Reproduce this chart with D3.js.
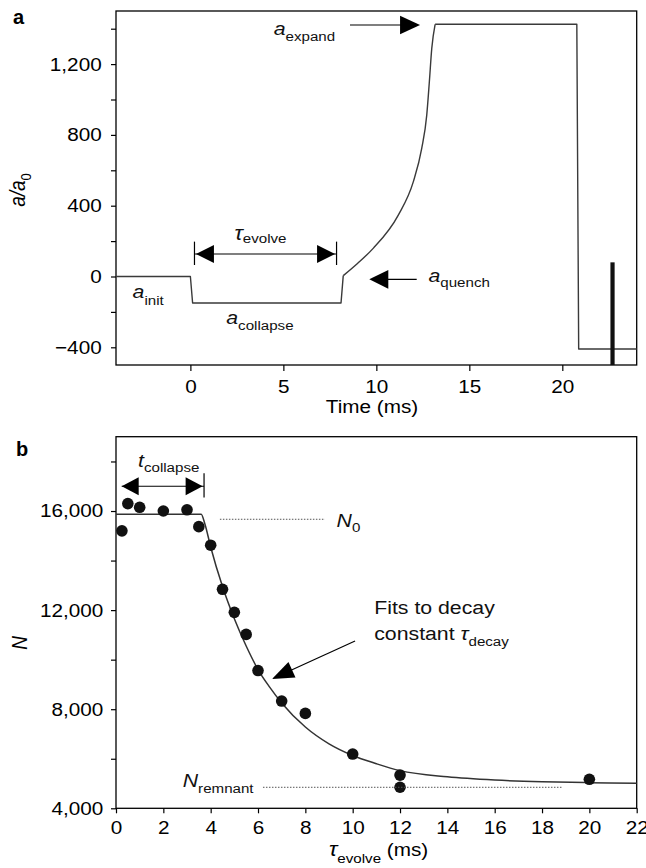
<!DOCTYPE html>
<html>
<head>
<meta charset="utf-8">
<script src="https://cdn.jsdelivr.net/npm/d3@7"></script>
<style>
body { margin: 0; background: #fff; }
svg { font-family: 'Liberation Sans', Arial, sans-serif; }
</style>
</head>
<body>
<div class="chart"></div>
<script>
// panel a: scattering length sequence
var timeMs = [-4, 0, 0.12, 8.1, 8.22, 9.0, 9.83, 11.18, 11.99, 12.44, 12.71, 12.85, 12.98, 13.16, 20.78, 20.88, 24];
var aRatio = [0, 0, -150, -150, 5, 75, 159, 347, 536, 724, 912, 1100, 1289, 1425, 1425, -410, -410];
var riseStart = 4, riseEnd = 13; // indices of the exponential ramp
var aTicks = [-400, 0, 400, 800, 1200];
var aMinorTicks = [-200, 200, 600, 1000, 1400];
var timeTicks = [0, 5, 10, 15, 20];
var pulseTime = 22.7, pulseTop = 80;

// panel b: remaining atoms vs evolve time
var tauEvolve = [0.25, 0.5, 1, 2, 3, 3.5, 4, 4.5, 5, 5.5, 6, 7, 8, 10, 12, 12, 20];
var atomNumber = [15200, 16300, 16150, 16000, 16050, 15370, 14620, 12840, 11910, 11020, 9560, 8330, 7830, 6190, 5340, 4850, 5170];
var fitTau = [0, 3.6, 3.75, 4, 4.5, 5, 5.5, 6, 6.5, 7, 8, 9, 10, 11, 12, 14, 16, 18, 20, 22];
var fitN = [15870, 15870, 15500, 14550, 12950, 11650, 10550, 9600, 8880, 8250, 7280, 6600, 6130, 5800, 5520, 5270, 5140, 5070, 5035, 5015];
var nTicks = [4000, 8000, 12000, 16000];
var nMinorTicks = [6000, 10000, 14000, 18000];
var tauTicks = [0, 2, 4, 6, 8, 10, 12, 14, 16, 18, 20, 22];

var SX = 1.12; // the source type is a bit wide
var W = 646, H = 868;

var svg = d3.select('.chart')
	.append('svg')
		.attr('width', W)
		.attr('height', H);

function arrowHead(g, tx, ty, fx, fy, len, half) {
	// filled triangle with tip at (tx,ty), pointing away from (fx,fy)
	var dx = tx - fx, dy = ty - fy;
	var d = Math.sqrt(dx * dx + dy * dy);
	var ux = dx / d, uy = dy / d;
	var bx = tx - ux * len, by = ty - uy * len;
	g.append('path')
		.attr('d', `M${tx},${ty}L${bx - uy * half},${by + ux * half}L${bx + uy * half},${by - ux * half}Z`)
		.attr('fill', '#000');
}

function subLabel(g, x, y, main, sub, size, subSize, drop) {
	var t = g.append('text')
		.attr('transform', `translate(${x},${y}) scale(${SX},1)`)
		.attr('font-size', size)
		.attr('fill', '#111');
	t.append('tspan').attr('font-style', 'italic').text(main);
	t.append('tspan').attr('font-size', subSize).attr('dy', drop).text(sub);
	return t;
}

// ---------- panel a ----------
var ax = {left: 116, right: 636.7, top: 11, bottom: 365};

var xA = d3.scaleLinear().domain([-4, 24]).range([ax.left, ax.right]);
var yA = d3.scaleLinear().domain([-500, 1500]).range([ax.bottom, ax.top]);

var gA = svg.append('g');

gA.append('g')
	.attr('transform', `translate(${ax.left},0)`)
	.call(d3.axisLeft(yA).tickValues(aMinorTicks).tickSize(5).tickFormat(''))
	.call(g => g.select('.domain').remove());

gA.append('g')
	.attr('transform', `translate(${ax.left},0)`)
	.call(d3.axisLeft(yA).tickValues(aTicks).tickSize(5).tickPadding(7.8).tickFormat(d3.format(',')))
	.call(g => g.select('.domain').remove())
	.selectAll('text')
		.attr('transform', `scale(${SX},1)`)
		.attr('font-size', 18.5)
		.attr('font-family', 'Liberation Sans, Arial, sans-serif');

gA.append('g')
	.attr('transform', `translate(0,${ax.bottom})`)
	.call(d3.axisBottom(xA).tickValues(timeTicks).tickSize(6).tickPadding(9))
	.call(g => g.select('.domain').remove())
	.selectAll('text')
		.attr('transform', `scale(${SX},1)`)
		.attr('font-size', 18.5)
		.attr('font-family', 'Liberation Sans, Arial, sans-serif');

gA.selectAll('.tick line').attr('stroke', '#000').attr('stroke-width', 1.2);

gA.append('rect')
	.attr('x', ax.left).attr('y', ax.top)
	.attr('width', ax.right - ax.left).attr('height', ax.bottom - ax.top)
	.attr('fill', 'none').attr('stroke', '#000').attr('stroke-width', 1.3);

var stepLine = d3.line()
	.x(i => xA(timeMs[i]))
	.y(i => yA(aRatio[i]));
var rampLine = d3.line()
	.x(i => xA(timeMs[i]))
	.y(i => yA(aRatio[i]))
	.curve(d3.curveMonotoneX);

var idx = d3.range(timeMs.length);
var pieces = [
	[stepLine, idx.filter(i => i <= riseStart)],
	[rampLine, idx.filter(i => i >= riseStart && i <= riseEnd)],
	[stepLine, idx.filter(i => i >= riseEnd)]
];
pieces.forEach(p => {
	gA.append('path')
		.attr('d', p[0](p[1]))
		.attr('fill', 'none')
		.attr('stroke', '#3a3a3a')
		.attr('stroke-width', 1.4)
		.attr('stroke-linejoin', 'round');
});

// imaging pulse
gA.append('line')
	.attr('x1', xA(pulseTime)).attr('x2', xA(pulseTime))
	.attr('y1', yA(pulseTop)).attr('y2', ax.bottom)
	.attr('stroke', '#111').attr('stroke-width', 4.2);

// tau_evolve double arrow
var evY = yA(127);
gA.append('line').attr('x1', xA(0.22)).attr('x2', xA(7.86)).attr('y1', evY).attr('y2', evY)
	.attr('stroke', '#000').attr('stroke-width', 1.2);
[0.22, 7.86].forEach(t => {
	gA.append('line').attr('x1', xA(t)).attr('x2', xA(t)).attr('y1', yA(197)).attr('y2', yA(65))
		.attr('stroke', '#000').attr('stroke-width', 1.2);
});
arrowHead(gA, xA(0.3), evY, xA(2), evY, 18, 9);
arrowHead(gA, xA(7.78), evY, xA(5), evY, 18, 9);
subLabel(gA, xA(2.37), yA(206), '\u03c4', 'evolve', 20, 13.5, 3);

// a_expand arrow
var exY = yA(1421);
gA.append('line').attr('x1', 350).attr('x2', xA(11.5)).attr('y1', exY).attr('y2', exY)
	.attr('stroke', '#000').attr('stroke-width', 1.2);
arrowHead(gA, xA(12.35), exY, xA(10), exY, 20, 9.3);
subLabel(gA, xA(4.48), yA(1364), 'a', 'expand', 19, 13.5, 6);

// a_quench arrow
var qY = yA(-16);
gA.append('line').attr('x1', xA(10.3)).attr('x2', xA(12.17)).attr('y1', qY).attr('y2', qY)
	.attr('stroke', '#000').attr('stroke-width', 1.2);
arrowHead(gA, xA(9.62), qY, xA(11), qY, 19, 9.3);
subLabel(gA, xA(12.8), yA(-29), 'a', 'quench', 19, 13.5, 5.5);

subLabel(gA, xA(-3.11), yA(-123), 'a', 'init', 19, 13.5, 7);
subLabel(gA, xA(1.93), yA(-268), 'a', 'collapse', 19, 13.5, 6.5);

gA.append('text')
	.attr('transform', `translate(372,413) scale(${SX},1)`)
	.attr('text-anchor', 'middle')
	.attr('font-size', 18.5)
	.text('Time (ms)');

var yLabA = gA.append('text')
	.attr('transform', `translate(25,190) rotate(-90) scale(1,${SX})`)
	.attr('text-anchor', 'middle')
	.attr('font-size', 19);
yLabA.append('tspan').attr('font-style', 'italic').text('a/a');
yLabA.append('tspan').attr('font-size', 13).attr('dy', 5).text('0');

gA.append('text')
	.attr('x', 13).attr('y', 24)
	.attr('font-size', 20).attr('font-weight', 'bold')
	.text('a');

// ---------- panel b ----------
var bx = {left: 116, right: 636.7, top: 436.7, bottom: 808.3};

var xB = d3.scaleLinear().domain([0, 22]).range([bx.left, bx.right]);
var yB = d3.scaleLinear().domain([4000, 19000]).range([bx.bottom, bx.top]);

var gB = svg.append('g');

gB.append('g')
	.attr('transform', `translate(${bx.left},0)`)
	.call(d3.axisLeft(yB).tickValues(nMinorTicks).tickSize(5).tickFormat(''))
	.call(g => g.select('.domain').remove());

gB.append('g')
	.attr('transform', `translate(${bx.left},0)`)
	.call(d3.axisLeft(yB).tickValues(nTicks).tickSize(5).tickPadding(6.4).tickFormat(d3.format(',')))
	.call(g => g.select('.domain').remove())
	.selectAll('text')
		.attr('transform', `scale(${SX},1)`)
		.attr('font-size', 18.5)
		.attr('font-family', 'Liberation Sans, Arial, sans-serif');

gB.append('g')
	.attr('transform', `translate(0,${bx.bottom})`)
	.call(d3.axisBottom(xB).tickValues(tauTicks).tickSize(5).tickPadding(8))
	.call(g => g.select('.domain').remove())
	.selectAll('text')
		.attr('transform', `scale(${SX},1)`)
		.attr('font-size', 18.5)
		.attr('font-family', 'Liberation Sans, Arial, sans-serif');

gB.selectAll('.tick line').attr('stroke', '#000').attr('stroke-width', 1.2);

gB.append('rect')
	.attr('x', bx.left).attr('y', bx.top)
	.attr('width', bx.right - bx.left).attr('height', bx.bottom - bx.top)
	.attr('fill', 'none').attr('stroke', '#000').attr('stroke-width', 1.3);

var lineB = d3.line()
	.x(i => xB(fitTau[i]))
	.y(i => yB(fitN[i]))
	.curve(d3.curveMonotoneX);

gB.append('path')
	.attr('d', lineB(d3.range(fitTau.length)))
	.attr('fill', 'none')
	.attr('stroke', '#333')
	.attr('stroke-width', 1.5);

gB.selectAll('circle')
	.data(d3.range(tauEvolve.length))
	.enter()
	.append('circle')
	.attr('cx', i => xB(tauEvolve[i]))
	.attr('cy', i => yB(atomNumber[i]))
	.attr('r', 5.8)
	.attr('fill', '#111');

// t_collapse double arrow
var tcY = yB(17000);
gB.append('line').attr('x1', xB(0.24)).attr('x2', xB(3.72)).attr('y1', tcY).attr('y2', tcY)
	.attr('stroke', '#000').attr('stroke-width', 1.2);
gB.append('line').attr('x1', xB(3.72)).attr('x2', xB(3.72)).attr('y1', yB(17520)).attr('y2', yB(16550))
	.attr('stroke', '#000').attr('stroke-width', 1.2);
arrowHead(gB, xB(0.24), tcY, xB(1.5), tcY, 17, 9);
arrowHead(gB, xB(3.66), tcY, xB(2), tcY, 17, 9);
subLabel(gB, xB(0.93), yB(17790), 't', 'collapse', 19, 13.5, 5);

// N0 dotted guide
gB.append('line').attr('x1', xB(4.39)).attr('x2', xB(8.83)).attr('y1', yB(15667)).attr('y2', yB(15667))
	.attr('stroke', '#555').attr('stroke-width', 1).attr('stroke-dasharray', '1.5,1.5');
subLabel(gB, xB(9.32), yB(15370), 'N', '0', 19, 13.5, 5);

// N_remnant dotted guide
gB.append('line').attr('x1', xB(6.21)).attr('x2', xB(18.83)).attr('y1', yB(4848)).attr('y2', yB(4848))
	.attr('stroke', '#555').attr('stroke-width', 1).attr('stroke-dasharray', '1.5,1.5');
subLabel(gB, xB(2.82), yB(4870), 'N', 'remnant', 19, 13.5, 6);

// fit annotation
gB.append('text')
	.attr('transform', `translate(${xB(10.91)},${yB(11840)}) scale(${SX},1)`)
	.attr('font-size', 19)
	.attr('fill', '#111')
	.text('Fits to decay');
var fit2 = gB.append('text')
	.attr('transform', `translate(${xB(10.91)},${yB(10790)}) scale(${SX},1)`)
	.attr('font-size', 19)
	.attr('fill', '#111');
fit2.append('tspan').text('constant ');
fit2.append('tspan').attr('font-style', 'italic').text('\u03c4');
fit2.append('tspan').attr('font-size', 13.5).attr('dy', 6).text('decay');

gB.append('line').attr('x1', xB(10.1)).attr('y1', yB(10754)).attr('x2', xB(7.3)).attr('y2', yB(9530))
	.attr('stroke', '#000').attr('stroke-width', 1.2);
arrowHead(gB, xB(6.59), yB(9220), xB(10.1), yB(10754), 22, 8.5);

// axis labels
var xLabB = gB.append('text')
	.attr('transform', `translate(329,856) scale(${SX},1)`)
	.attr('font-size', 18.5);
xLabB.append('tspan').attr('font-style', 'italic').attr('font-size', 20).text('\u03c4');
xLabB.append('tspan').attr('font-size', 13.5).attr('dy', 7).text('evolve');
xLabB.append('tspan').attr('dy', -7).text(' (ms)');

gB.append('text')
	.attr('transform', `translate(27,643) rotate(-90) scale(1,${SX})`)
	.attr('text-anchor', 'middle')
	.attr('font-size', 19)
	.attr('font-style', 'italic')
	.text('N');

gB.append('text')
	.attr('x', 16).attr('y', 456)
	.attr('font-size', 20).attr('font-weight', 'bold')
	.text('b');
</script>
</body>
</html>
